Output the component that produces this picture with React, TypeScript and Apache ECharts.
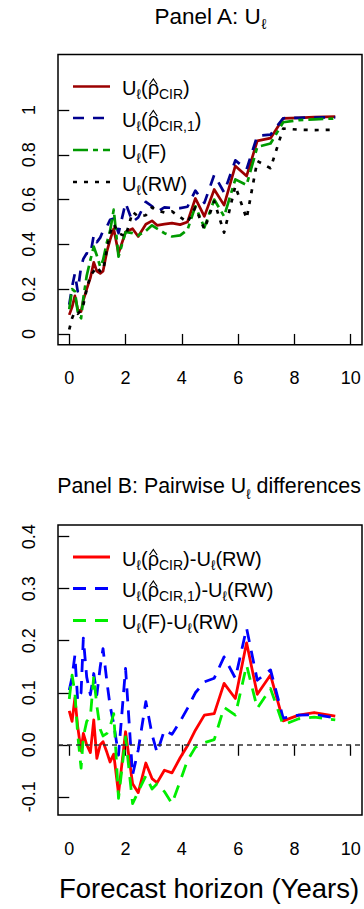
import React, { useEffect, useRef } from "react";
import * as echarts from "echarts";

// Forecast horizons (years)
const horizon = [0, 0.1, 0.2, 0.3, 0.42, 0.5, 0.62, 0.75, 0.87, 0.98, 1.1, 1.2, 1.34, 1.45, 1.58, 1.75, 2.0, 2.25, 2.45, 2.72, 2.94, 3.12, 3.38, 3.65, 3.94, 4.2, 4.48, 4.8, 5.15, 5.5, 5.9, 6.3, 6.68, 7.15, 7.6, 8.15, 8.7, 9.45];

// Panel A: U_l
const uCir = [0.085, 0.12, 0.17, 0.11, 0.10, 0.15, 0.20, 0.25, 0.32, 0.28, 0.27, 0.28, 0.37, 0.42, 0.47, 0.36, 0.455, 0.47, 0.435, 0.49, 0.505, 0.485, 0.49, 0.495, 0.488, 0.50, 0.605, 0.525, 0.645, 0.575, 0.75, 0.705, 0.862, 0.874, 0.962, 0.965, 0.968, 0.970];
const uCir1 = [0.13, 0.21, 0.27, 0.19, 0.30, 0.335, 0.36, 0.355, 0.44, 0.41, 0.43, 0.46, 0.48, 0.51, 0.515, 0.45, 0.585, 0.50, 0.52, 0.59, 0.57, 0.545, 0.565, 0.563, 0.562, 0.568, 0.64, 0.585, 0.71, 0.632, 0.775, 0.735, 0.885, 0.89, 0.963, 0.965, 0.966, 0.967];
const uF = [0.11, 0.20, 0.19, 0.10, 0.07, 0.16, 0.26, 0.33, 0.39, 0.35, 0.30, 0.33, 0.41, 0.46, 0.555, 0.345, 0.455, 0.45, 0.44, 0.46, 0.485, 0.47, 0.45, 0.435, 0.44, 0.465, 0.57, 0.475, 0.60, 0.525, 0.69, 0.665, 0.835, 0.85, 0.945, 0.955, 0.958, 0.962];
const uRW = [0.02, 0.07, 0.1, 0.09, 0.105, 0.13, 0.2, 0.26, 0.28, 0.3, 0.28, 0.28, 0.38, 0.45, 0.49, 0.45, 0.435, 0.545, 0.525, 0.53, 0.565, 0.552, 0.542, 0.547, 0.522, 0.498, 0.565, 0.467, 0.592, 0.452, 0.66, 0.515, 0.772, 0.74, 0.917, 0.912, 0.91, 0.912];

// Panel B: pairwise differences vs RW
const dCir = [0.065, 0.045, 0.09, 0.035, -0.012, 0.022, 0.0, -0.015, 0.048, -0.026, 0.0, 0.006, -0.015, -0.033, -0.018, -0.094, 0.025, -0.075, -0.092, -0.035, -0.065, -0.073, -0.049, -0.054, -0.025, -0.002, 0.028, 0.057, 0.06, 0.118, 0.089, 0.196, 0.097, 0.134, 0.046, 0.057, 0.062, 0.055];
const dCir1 = [0.105, 0.13, 0.172, 0.085, 0.10, 0.205, 0.13, 0.096, 0.137, 0.096, 0.15, 0.185, 0.12, 0.075, 0.04, -0.02, 0.147, -0.058, -0.01, 0.083, 0.02, -0.015, 0.028, 0.02, 0.045, 0.07, 0.1, 0.121, 0.128, 0.169, 0.128, 0.224, 0.124, 0.144, 0.051, 0.057, 0.058, 0.052];
const dF = [0.088, 0.134, 0.10, 0.02, -0.045, 0.015, 0.045, 0.054, 0.131, 0.075, 0.03, 0.017, 0.022, 0.035, 0.06, -0.103, 0.015, -0.113, -0.09, -0.06, -0.085, -0.075, -0.09, -0.113, -0.07, -0.03, -0.005, 0.004, 0.01, 0.072, 0.057, 0.153, 0.07, 0.108, 0.038, 0.05, 0.053, 0.048];

// Ticks
const xTicks = [0, 2, 4, 6, 8, 10];
const yTicksA = [0, 0.2, 0.4, 0.6, 0.8, 1];
const yTicksB = [-0.1, 0, 0.1, 0.2, 0.3, 0.4];

const F = "'Liberation Sans', Arial, Helvetica, sans-serif";
const MS = 20; // legend main font size
const SS = 14; // legend subscript font size

const C = {
  aRed: "#9B0000",
  aBlue: "#00008F",
  aGreen: "#009A00",
  aBlack: "#000000",
  bRed: "#FF0000",
  bBlue: "#0000FF",
  bGreen: "#00EE00",
};

const DASH = [11, 9];
const TWODASH = [15, 5, 5, 5];
const DOT = [4, 7];
const BDASH = [13, 9];

const rich = {
  m: { fontSize: MS, fontFamily: F, fill: "#000", lineHeight: 26 },
  s: { fontSize: SS, fontFamily: F, fill: "#000", lineHeight: 15, verticalAlign: "bottom" },
  t: { fontSize: 22.5, fontFamily: F, fill: "#000", lineHeight: 30 },
  ts: { fontSize: 14.5, fontFamily: F, fill: "#000", lineHeight: 17, verticalAlign: "bottom" },
  tb: { fontSize: 21.4, fontFamily: F, fill: "#000", lineHeight: 30 },
  tbs: { fontSize: 14, fontFamily: F, fill: "#000", lineHeight: 17, verticalAlign: "bottom" },
};

const legendA = [
  { text: "{m|U}{s|ℓ}{m|(ρ}{s|CIR}{m|)}", color: C.aRed, dash: "solid", hat: true },
  { text: "{m|U}{s|ℓ}{m|(ρ}{s|CIR,1}{m|)}", color: C.aBlue, dash: DASH, hat: true },
  { text: "{m|U}{s|ℓ}{m|(F)}", color: C.aGreen, dash: TWODASH, hat: false },
  { text: "{m|U}{s|ℓ}{m|(RW)}", color: C.aBlack, dash: DOT, hat: false },
];
const legendB = [
  { text: "{m|U}{s|ℓ}{m|(ρ}{s|CIR}{m|)-U}{s|ℓ}{m|(RW)}", color: C.bRed, dash: "solid", hat: true },
  { text: "{m|U}{s|ℓ}{m|(ρ}{s|CIR,1}{m|)-U}{s|ℓ}{m|(RW)}", color: C.bBlue, dash: BDASH, hat: true },
  { text: "{m|U}{s|ℓ}{m|(F)-U}{s|ℓ}{m|(RW)}", color: C.bGreen, dash: BDASH, hat: false },
];
const rowsA = [86.5, 118, 150, 182];
const rowsB = [557, 588.5, 620.5];

function pairs(ys: number[]) {
  return horizon.map((h, i) => [h, ys[i]]);
}

function lineSeries(name: string, xi: number, ys: number[], color: string, dash: any, width: number, extra: any = {}) {
  return {
    name,
    type: "line",
    xAxisIndex: xi,
    yAxisIndex: xi,
    data: pairs(ys),
    showSymbol: false,
    symbol: "none",
    silent: true,
    lineStyle: { color, width, type: dash, cap: "butt", join: "round" },
    ...extra,
  };
}

function xAxisDef(gi: number, margin: number) {
  return {
    gridIndex: gi,
    type: "value",
    min: -0.4,
    max: 10.4,
    axisLine: { show: false },
    splitLine: { show: false },
    axisTick: { show: true, length: 11, customValues: xTicks, lineStyle: { color: "#000", width: 1.3 } },
    axisLabel: { show: true, customValues: xTicks, margin, fontSize: 18, color: "#000", fontFamily: F, formatter: (v: number) => String(v) },
  };
}

function yAxisDef(gi: number, min: number, max: number, ticks: number[], fmt: (v: number) => string) {
  return {
    gridIndex: gi,
    type: "value",
    min,
    max,
    axisLine: { show: false },
    splitLine: { show: false },
    axisTick: { show: true, length: 11, customValues: ticks, lineStyle: { color: "#000", width: 1.3 } },
    axisLabel: { show: true, customValues: ticks, margin: 20, rotate: 90, fontSize: 18, color: "#000", fontFamily: F, formatter: fmt },
  };
}

export default function App() {
  const ref = useRef<HTMLDivElement>(null);
  useEffect(() => {
    if (!ref.current) return;
    const chart = echarts.init(ref.current, null, { renderer: "svg" });

    const cv = document.createElement("canvas").getContext("2d");
    const tw = (s: string, size: number) => {
      if (!cv) return size * 0.6 * s.length;
      cv.font = `${size}px ${F}`;
      return cv.measureText(s).width;
    };
    const hatX = 122 + tw("U", MS) + tw("ℓ", SS) + tw("(", MS) + tw("ρ", MS) / 2;

    const graphics: any[] = [];
    graphics.push({ type: "text", x: 210, y: 16, style: { text: "{t|Panel A: U}{ts|ℓ}", rich, align: "center", verticalAlign: "middle" } });
    graphics.push({ type: "text", x: 209, y: 486, style: { text: "{tb|Panel B: Pairwise U}{tbs|ℓ}{tb| differences}", rich, align: "center", verticalAlign: "middle" } });
    graphics.push({ type: "text", x: 209, y: 888, style: { text: "Forecast horizon (Years)", fontSize: 27.5, fontFamily: F, fill: "#000", align: "center", verticalAlign: "middle" } });
    const addLegend = (items: any[], rows: number[], lw: number) => {
      items.forEach((it, i) => {
        const r = rows[i];
        graphics.push({ type: "line", shape: { x1: 73, y1: r, x2: 110, y2: r }, style: { stroke: it.color, lineWidth: lw, lineDash: it.dash === "solid" ? null : it.dash } });
        graphics.push({ type: "text", x: 122, y: r + 1.5, style: { text: it.text, rich, align: "left", verticalAlign: "middle" } });
        if (it.hat) {
          graphics.push({
            type: "polyline",
            shape: { points: [[hatX - 3.8, r - 2], [hatX, r - 7.5], [hatX + 3.8, r - 2]] },
            style: { stroke: "#000", lineWidth: 1.2, fill: null },
          });
        }
      });
    };
    addLegend(legendA, rowsA, 2.7);
    addLegend(legendB, rowsB, 2.8);

    chart.setOption({
      animation: false,
      backgroundColor: "#fff",
      grid: [
        { left: 58, top: 54.4, width: 304, height: 290.3, show: true, borderColor: "#000", borderWidth: 1.5, backgroundColor: "transparent", containLabel: false },
        { left: 58, top: 525, width: 304, height: 290, show: true, borderColor: "#000", borderWidth: 1.5, backgroundColor: "transparent", containLabel: false },
      ],
      xAxis: [xAxisDef(0, 24), xAxisDef(1, 25)],
      yAxis: [
        yAxisDef(0, -0.048, 1.248, yTicksA, (v: number) => String(Math.round(v * 10) / 10)),
        yAxisDef(1, -0.135, 0.4225, yTicksB, (v: number) => (Math.round(v * 10) / 10).toFixed(1)),
      ],
      series: [
        lineSeries("Ucir", 0, uCir, C.aRed, "solid", 2.7),
        lineSeries("Ucir1", 0, uCir1, C.aBlue, DASH, 2.7),
        lineSeries("UF", 0, uF, C.aGreen, TWODASH, 2.7),
        lineSeries("URW", 0, uRW, C.aBlack, DOT, 2.7),
        lineSeries("dCir", 1, dCir, C.bRed, "solid", 2.8, {
          markLine: {
            silent: true,
            symbol: "none",
            label: { show: false },
            lineStyle: { color: "#333", width: 1.5, type: [5, 4] },
            data: [{ yAxis: 0 }],
          },
        }),
        lineSeries("dCir1", 1, dCir1, C.bBlue, BDASH, 2.8),
        lineSeries("dF", 1, dF, C.bGreen, BDASH, 2.8),
      ],
      graphic: graphics,
    });
    return () => chart.dispose();
  }, []);
  return <div ref={ref} style={{ position: "fixed", left: 0, top: 0, width: 364, height: 909 }} />;
}
